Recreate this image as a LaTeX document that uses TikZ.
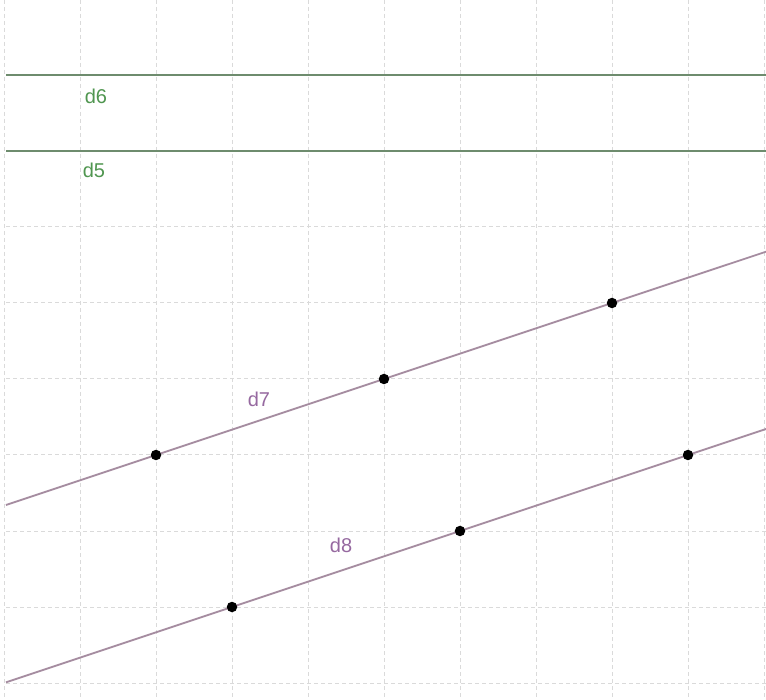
\documentclass[tikz,border=0pt]{standalone}
\usepackage{fontspec}
\setmainfont{Liberation Sans}
\definecolor{gridc}{RGB}{218,218,218}
\definecolor{hline}{RGB}{110,140,110}
\definecolor{hlab}{RGB}{80,150,80}
\definecolor{slinec}{RGB}{165,140,160}
\definecolor{slab}{RGB}{150,105,160}
\begin{document}
\begin{tikzpicture}[x=1pt,y=-1pt,
  gridline/.style={gridc,line width=1pt,dash pattern=on 4pt off 3pt},
  pt/.style={circle,fill=black,inner sep=0pt,minimum size=10.5pt},
  hl/.style={hline,line width=1.8pt},
  sl/.style={slinec,line width=1.8pt},
  hlabel/.style={text=hlab,font=\fontsize{20}{20}\selectfont,inner sep=1pt},
  slabel/.style={text=slab,font=\fontsize{20}{20}\selectfont,inner sep=1pt}]
\fill[white] (0,0) rectangle (766,700);
\useasboundingbox (0,0) rectangle (766,700);
% grid
\foreach \x in {4,80,156,232,308,384,460,536,612,688,764}
  \draw[gridline] (\x,0) -- (\x,700);
\foreach \y in {75,151,227,303,379,455,531,607,683}
  \draw[gridline] (6,\y) -- (766,\y);
% horizontal lines
\coordinate (L6) at (6,75);  \coordinate (R6) at (766,75);
\coordinate (L5) at (6,151); \coordinate (R5) at (766,151);
\draw[hl] (L6) -- (R6);
\draw[hl] (L5) -- (R5);
\node[hlabel] (d6) at (96,96) {d6};
\node[hlabel] (d5) at (94,170) {d5};
% slanted lines
\coordinate (L7) at (6,505);  \coordinate (R7) at (766,251.7);
\coordinate (L8) at (6,682.3);  \coordinate (R8) at (766,429);
\draw[sl] (L7) -- (R7);
\draw[sl] (L8) -- (R8);
\node[slabel] (d7) at (259,399) {d7};
\node[slabel] (d8) at (341,545) {d8};
% points
\node[pt] (A) at (156,455) {};
\node[pt] (B) at (384,379) {};
\node[pt] (C) at (612,303) {};
\node[pt] (D) at (232,607) {};
\node[pt] (E) at (460,531) {};
\node[pt] (F) at (688,455) {};
\end{tikzpicture}
\end{document}
